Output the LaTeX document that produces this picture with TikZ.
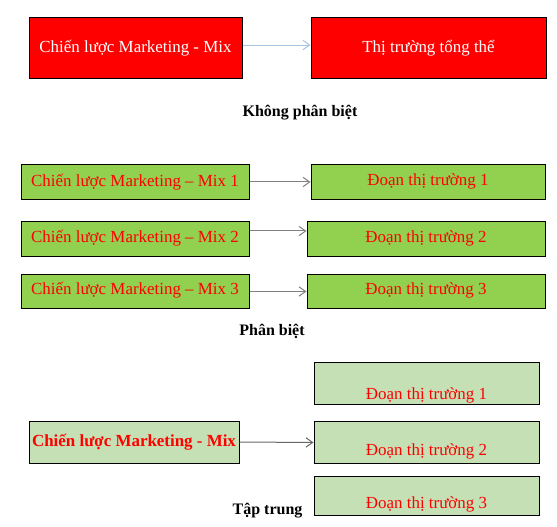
\documentclass[tikz,border=0pt]{standalone}
\usepackage{fontspec}
\setmainfont{Liberation Serif}
\usetikzlibrary{arrows.meta}

\definecolor{boxred}{RGB}{255,0,0}
\definecolor{boxgreen}{RGB}{146,208,80}
\definecolor{boxpale}{RGB}{197,224,180}
\definecolor{linkblue}{RGB}{167,195,227}
\definecolor{linkgray}{RGB}{128,128,128}

\begin{document}
\begin{tikzpicture}[x=0.75pt, y=-0.75pt,
    >={Straight Barb[length=5pt,width=7pt]},
    box/.style={draw=black, line width=0.75pt, inner xsep=1pt, inner ysep=0pt,
        font=\fontsize{12.7}{15}\selectfont, text depth=2.5pt, text height=9.1pt},
    redbox/.style={box, fill=boxred, text=white},
    greenbox/.style={box, fill=boxgreen, text=boxred, text height=7.1pt},
    palebox/.style={box, fill=boxpale, text=boxred, text height=22.5pt},
    link/.style={->, line width=0.75pt, linkgray},
    caption/.style={anchor=base, font=\fontsize{12}{14}\selectfont\bfseries}]

    \useasboundingbox (0,0) rectangle (557,527);

    % Undifferentiated: one mix for the whole market
    \node[redbox, minimum width=159.75pt, minimum height=45.75pt] (mixA) at (135.5,48.5) {Chiến lược Marketing - Mix};
    \node[redbox, minimum width=176.25pt, minimum height=45.75pt] (whole) at (428.5,48.5) {Thị trường tổng thể};
    \draw[link, linkblue] ([yshift=2.6pt]mixA.east) -- ([yshift=2.6pt]whole.west);
    \node[caption] (nodiff) at (300,116.7) {Không phân biệt};

    % Differentiated: one mix per segment
    \node[greenbox, minimum width=171pt, minimum height=25.9pt, text height=9pt] (mix1) at (135,182) {Chiến lược Marketing – Mix 1};
    \node[greenbox, minimum width=171pt, minimum height=25.9pt] (mix2) at (135,239) {Chiến lược Marketing – Mix 2};
    \node[greenbox, minimum width=171pt, minimum height=25.9pt] (mix3) at (135,291.5) {Chiến lược Marketing – Mix 3};

    \node[greenbox, minimum width=175.5pt, minimum height=25.9pt] (seg1) at (428,182) {Đoạn thị trường 1};
    \node[greenbox, minimum width=178.5pt, minimum height=25.9pt] (seg2) at (426,239) {Đoạn thị trường 2};
    \node[greenbox, minimum width=178.5pt, minimum height=25.9pt] (seg3) at (426,291.5) {Đoạn thị trường 3};

    \draw[link] (mix1.east) -- (seg1.west);
    \draw[link] ([yshift=6pt]mix2.east) -- ([yshift=6pt]seg2.west);
    \draw[link] (mix3.east) -- (seg3.west);
    \node[caption] (diff) at (272,335.7) {Phân biệt};

    % Concentrated: one mix, one chosen segment
    \node[box, fill=boxpale, text=boxred, font=\fontsize{12.7}{15}\selectfont\bfseries,
        minimum width=157.5pt, minimum height=31.5pt] (mixC) at (134,442) {Chiến lược Marketing - Mix};

    \node[palebox, minimum width=168.75pt, minimum height=31.5pt, text height=27pt] (part1) at (426.5,383) {Đoạn thị trường 1};
    \node[palebox, minimum width=168.75pt, minimum height=31.5pt] (part2) at (426.5,442.5) {Đoạn thị trường 2};
    \node[palebox, minimum width=168.75pt, minimum height=29.25pt] (part3) at (426.5,495.5) {Đoạn thị trường 3};

    \draw[link, black!60] (mixC.east) -- (part2.west);
    \node[caption] (focus) at (267.5,514) {Tập trung};

\end{tikzpicture}
\end{document}
